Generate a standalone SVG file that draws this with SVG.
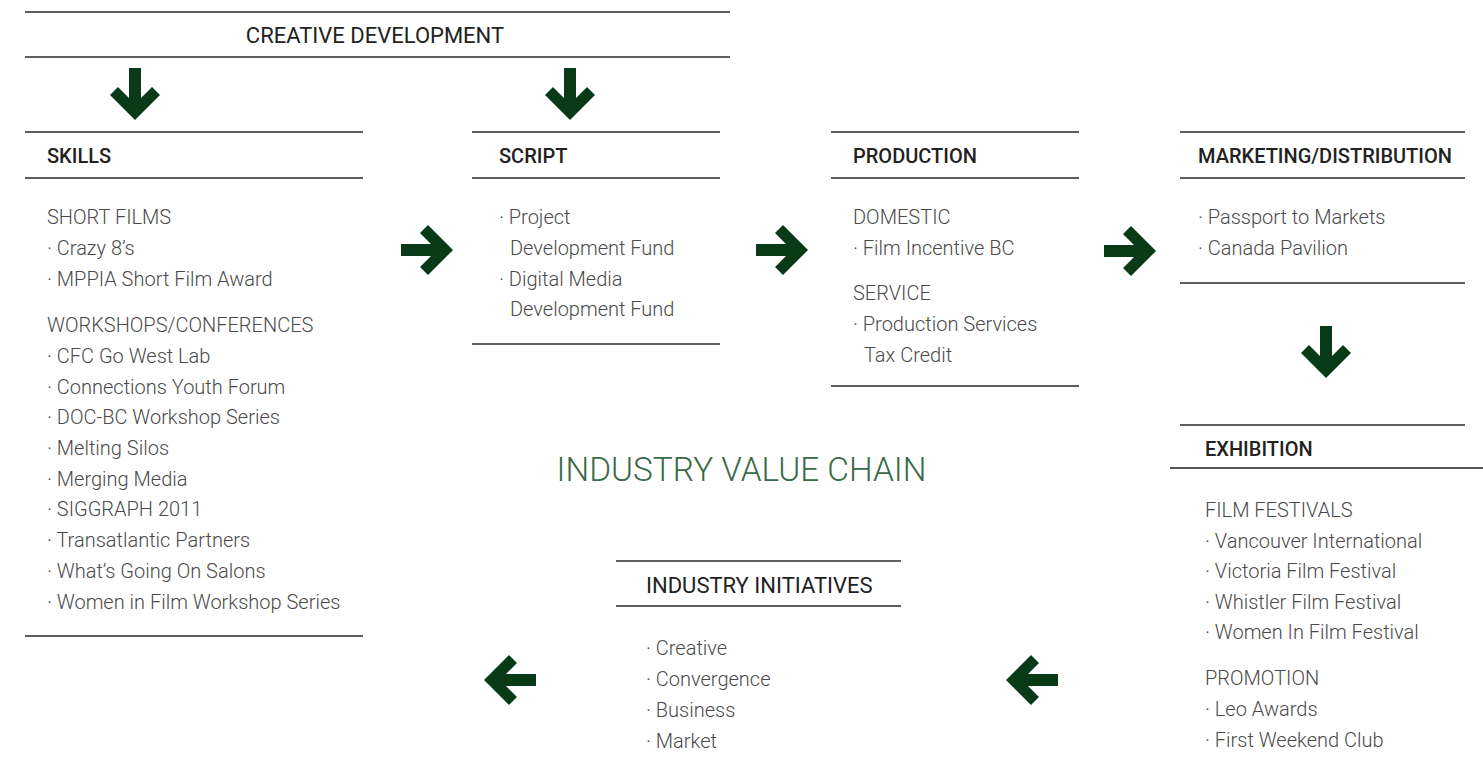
<svg xmlns="http://www.w3.org/2000/svg" xmlns:xlink="http://www.w3.org/1999/xlink" width="1483" height="773" viewBox="0 0 1483 773">
<style>
.rule{stroke:#2a2a2a;stroke-width:1.5;fill:none}
.hd{font-family:Roboto,"Liberation Sans",sans-serif;font-size:20px;font-weight:500;fill:#222}
.hd2{font-family:Roboto,"Liberation Sans",sans-serif;font-size:22px;font-weight:400;fill:#222}
.bd{font-family:Roboto,"Liberation Sans",sans-serif;font-size:20px;font-weight:300;fill:#4a4a4a}
.title{font-family:Roboto,"Liberation Sans",sans-serif;font-size:33.4px;font-weight:300;fill:#3a6a48}
.arr{fill:#083a18}
</style>
<defs>
<path id="arrow" d="M-6,-26 H6 V4 L17,-7 L25,1 L0,26 L-25,1 L-17,-7 L-6,4 Z"/>
</defs>
<rect width="1483" height="773" fill="#fff"/>

<g id="creative-development">
<line class="rule" x1="25" y1="12" x2="730" y2="12"/>
<line class="rule" x1="25" y1="57" x2="730" y2="57"/>
<text class="hd2" x="375" y="43" text-anchor="middle">CREATIVE DEVELOPMENT</text>
</g>

<g id="skills">
<line class="rule" x1="25" y1="132" x2="363" y2="132"/>
<line class="rule" x1="25" y1="178" x2="363" y2="178"/>
<line class="rule" x1="25" y1="636" x2="363" y2="636"/>
<text class="hd" x="47" y="163">SKILLS</text>
<text class="bd" x="47" y="224">SHORT FILMS</text>
<text class="bd" x="47" y="255">· Crazy 8’s</text>
<text class="bd" x="47" y="286">· MPPIA Short Film Award</text>
<text class="bd" x="47" y="332">WORKSHOPS/CONFERENCES</text>
<text class="bd" x="47" y="363">· CFC Go West Lab</text>
<text class="bd" x="47" y="394">· Connections Youth Forum</text>
<text class="bd" x="47" y="424">· DOC-BC Workshop Series</text>
<text class="bd" x="47" y="455">· Melting Silos</text>
<text class="bd" x="47" y="486">· Merging Media</text>
<text class="bd" x="47" y="516">· SIGGRAPH 2011</text>
<text class="bd" x="47" y="547">· Transatlantic Partners</text>
<text class="bd" x="47" y="578">· What’s Going On Salons</text>
<text class="bd" x="47" y="609">· Women in Film Workshop Series</text>
</g>

<g id="script">
<line class="rule" x1="472" y1="132" x2="720" y2="132"/>
<line class="rule" x1="472" y1="178" x2="720" y2="178"/>
<line class="rule" x1="472" y1="344" x2="720" y2="344"/>
<text class="hd" x="499" y="163">SCRIPT</text>
<text class="bd" x="499" y="224">· Project</text>
<text class="bd" x="510" y="255">Development Fund</text>
<text class="bd" x="499" y="286">· Digital Media</text>
<text class="bd" x="510" y="316">Development Fund</text>
</g>

<g id="production">
<line class="rule" x1="831" y1="132" x2="1079" y2="132"/>
<line class="rule" x1="831" y1="178" x2="1079" y2="178"/>
<line class="rule" x1="831" y1="386" x2="1079" y2="386"/>
<text class="hd" x="853" y="163">PRODUCTION</text>
<text class="bd" x="853" y="224">DOMESTIC</text>
<text class="bd" x="853" y="255">· Film Incentive BC</text>
<text class="bd" x="853" y="300">SERVICE</text>
<text class="bd" x="853" y="331">· Production Services</text>
<text class="bd" x="864" y="362">Tax Credit</text>
</g>

<g id="marketing-distribution">
<line class="rule" x1="1180" y1="132" x2="1465" y2="132"/>
<line class="rule" x1="1180" y1="178" x2="1465" y2="178"/>
<line class="rule" x1="1180" y1="283" x2="1465" y2="283"/>
<text class="hd" x="1198" y="163">MARKETING/DISTRIBUTION</text>
<text class="bd" x="1198" y="224">· Passport to Markets</text>
<text class="bd" x="1198" y="255">· Canada Pavilion</text>
</g>

<g id="exhibition">
<line class="rule" x1="1180" y1="425" x2="1465" y2="425"/>
<line x1="1170" y1="468" x2="1483" y2="468" stroke="#555" stroke-width="2"/>
<text class="hd" x="1205" y="456">EXHIBITION</text>
<text class="bd" x="1205" y="517">FILM FESTIVALS</text>
<text class="bd" x="1205" y="548">· Vancouver International</text>
<text class="bd" x="1205" y="578">· Victoria Film Festival</text>
<text class="bd" x="1205" y="609">· Whistler Film Festival</text>
<text class="bd" x="1205" y="639">· Women In Film Festival</text>
<text class="bd" x="1205" y="685">PROMOTION</text>
<text class="bd" x="1205" y="716">· Leo Awards</text>
<text class="bd" x="1205" y="747">· First Weekend Club</text>
</g>

<g id="industry-value-chain">
<text class="title" x="741.5" y="481" text-anchor="middle">INDUSTRY VALUE CHAIN</text>
</g>

<g id="industry-initiatives">
<line class="rule" x1="616" y1="561" x2="901" y2="561"/>
<line class="rule" x1="616" y1="606" x2="901" y2="606"/>
<text class="hd2" x="646" y="593">INDUSTRY INITIATIVES</text>
<text class="bd" x="646" y="655">· Creative</text>
<text class="bd" x="646" y="686">· Convergence</text>
<text class="bd" x="646" y="717">· Business</text>
<text class="bd" x="646" y="748">· Market</text>
</g>

<g id="connectors" class="arr">
<use xlink:href="#arrow" href="#arrow" transform="translate(135,94)"/>
<use xlink:href="#arrow" href="#arrow" transform="translate(570,94)"/>
<use xlink:href="#arrow" href="#arrow" transform="translate(427,250) rotate(-90)"/>
<use xlink:href="#arrow" href="#arrow" transform="translate(782,250) rotate(-90)"/>
<use xlink:href="#arrow" href="#arrow" transform="translate(1130,251) rotate(-90)"/>
<use xlink:href="#arrow" href="#arrow" transform="translate(1326,352)"/>
<use xlink:href="#arrow" href="#arrow" transform="translate(1032,680) rotate(90)"/>
<use xlink:href="#arrow" href="#arrow" transform="translate(510,680) rotate(90)"/>
</g>
</svg>
